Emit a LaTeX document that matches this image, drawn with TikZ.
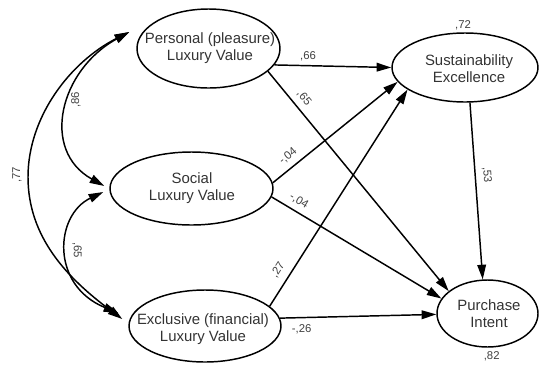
\documentclass[tikz,border=0pt]{standalone}
\usepackage{fontspec}
\setmainfont{Liberation Sans}
\usetikzlibrary{shapes.geometric,arrows.meta}
\begin{document}
\begin{tikzpicture}[x=0.75pt,y=-0.75pt,
  lat/.style={draw, ellipse, line width=1.1pt, inner sep=0pt},
  ttl/.style={font=\fontsize{11.2}{12.75}\selectfont, align=center, text=black!80, inner sep=0pt},
  coef/.style={font=\fontsize{8.5}{10}\selectfont, text=black!75, inner sep=0pt},
  tip/.tip={Triangle[length=11pt,width=6.5pt]},
  pathar/.style={line width=1.1pt, -tip},
  covar/.style={line width=1.1pt, tip-tip}]
\useasboundingbox (0,0) rectangle (539,365);
% latent variables
\node[lat, minimum width=107.25pt, minimum height=59.25pt] (pers) at (208.5,48.5) {};
\node[lat, minimum width=122.25pt, minimum height=54.75pt] (soc) at (191.5,188.5) {};
\node[lat, minimum width=114pt, minimum height=54pt] (excl) at (205,326) {};
\node[lat, minimum width=109.5pt, minimum height=51.75pt] (sust) at (465,67.5) {};
\node[lat, minimum width=75.75pt, minimum height=50.25pt] (purch) at (487.5,313.5) {};
% texts
\node[ttl] (perst) at (210,48.5) {Personal (pleasure)\\Luxury Value};
\node[ttl] (soct) at (192,188) {Social\\Luxury Value};
\node[ttl] (exclt) at (203,329.5) {Exclusive (financial)\\Luxury Value};
\node[ttl] (sustt) at (469,68.5) {Sustainability\\Excellence};
\node[ttl] (purcht) at (489,314) {Purchase\\Intent};
% regression paths
\draw[pathar] (pers.-14) -- (sust.west);
\draw[pathar] (pers.-21) -- (purch.150);
\draw[pathar] (soc.4) -- (sust.-168);
\draw[pathar] (soc.-6) -- (purch.162);
\draw[pathar] (excl.17) -- (sust.-159);
\draw[pathar] (excl.6) -- (purch.181);
\draw[pathar] (sust.-82) -- (purch.98);
% covariance ends
\coordinate (pcov) at ([shift={(-7,-16.5)}]pers.west);
\coordinate (scov1) at ([shift={(-5,-2.5)}]soc.west);
\coordinate (scov2) at ([shift={(-6,3.5)}]soc.west);
\coordinate (ecov1) at ([shift={(-6,-7)}]excl.west);
\coordinate (ecov2) at ([shift={(-10,-13)}]excl.west);
\coordinate (cmid) at (28,177);
\draw[covar] (pcov) .. controls (60,70) and (40,150) .. (scov1);
\draw[covar] (pcov) .. controls (70,62) and (28,117) .. (cmid) .. controls (28,237) and (67,278) .. (ecov1);
\draw[covar] (scov2) .. controls (55,215) and (50,285) .. (ecov2);
% coefficients
\node[coef] (r72) at (463,25) {,72};
\node[coef] (r82) at (491.7,356.7) {,82};
\node[coef] (c66) at (308,56) {,66};
\node[coef, rotate=-50.7] (c65a) at (304,98) {,65};
\node[coef, rotate=39.4] (c04a) at (288,156) {-,04};
\node[coef, rotate=-30.9] (c04b) at (299,201) {-,04};
\node[coef, rotate=57.5] (c27) at (278,270) {,27};
\node[coef] (c26) at (301.7,329) {-,26};
\node[coef, rotate=-86] (c53) at (487,175) {,53};
\node[coef, rotate=90] (k86) at (76,100) {,86};
\node[coef, rotate=90] (k77) at (17,175) {,77};
\node[coef, rotate=-90] (k65) at (77,250) {,65};
\end{tikzpicture}
\end{document}
